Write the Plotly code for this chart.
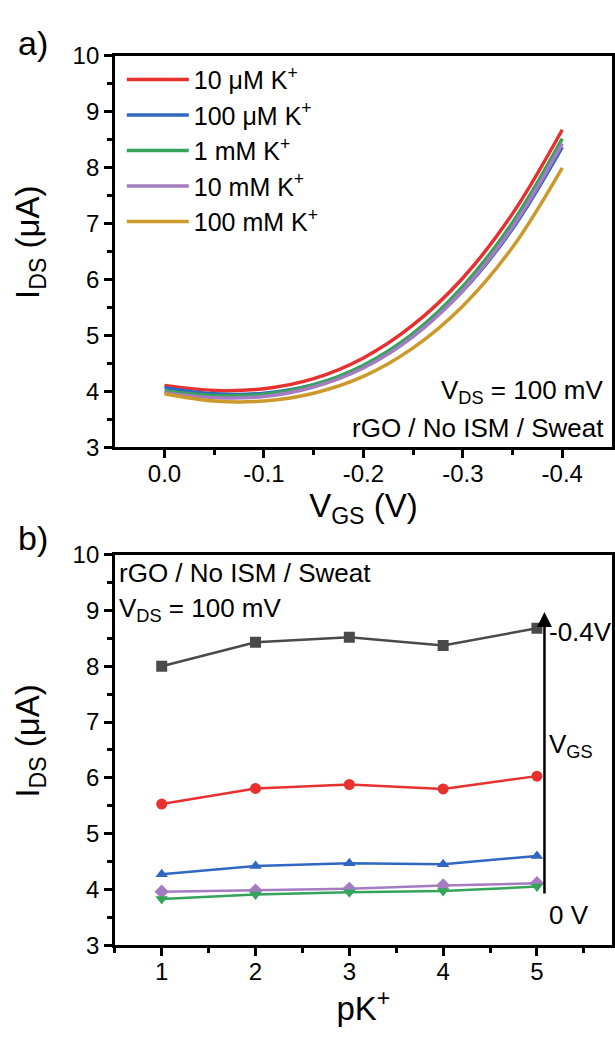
import plotly.graph_objects as go

# ---------------- Data ----------------
# Panel a: transfer curves (IDS in uA vs VGS in V)
vgs = [0.0, -0.05, -0.10, -0.15, -0.20, -0.25, -0.30, -0.35, -0.40]
conc_labels = ["10 μM K<sup>+</sup>", "100 μM K<sup>+</sup>", "1 mM K<sup>+</sup>",
               "10 mM K<sup>+</sup>", "100 mM K<sup>+</sup>"]
ids_10uM = [4.11, 4.02, 4.05, 4.23, 4.60, 5.19, 6.03, 7.18, 8.68]
ids_100uM = [4.07, 3.96, 3.97, 4.12, 4.45, 5.00, 5.80, 6.91, 8.37]
ids_1mM = [4.01, 3.93, 3.95, 4.12, 4.47, 5.04, 5.88, 7.02, 8.52]
ids_10mM = [3.98, 3.89, 3.91, 4.08, 4.42, 4.98, 5.81, 6.94, 8.43]
ids_100mM = [3.96, 3.83, 3.83, 3.97, 4.27, 4.78, 5.53, 6.58, 8.00]
colors_a = ["#E8302E", "#2F67C2", "#36A35A", "#A57BC2", "#CC9A2A"]

# Panel b: IDS vs pK+ at several VGS
pk = [1, 2, 3, 4, 5]
ids_m04 = [8.00, 8.43, 8.52, 8.37, 8.68]
ids_m03 = [5.53, 5.81, 5.88, 5.80, 6.03]
ids_m02 = [4.27, 4.42, 4.47, 4.45, 4.60]
ids_0 = [3.96, 3.98, 4.01, 4.07, 4.11]
ids_m01 = [3.83, 3.91, 3.95, 3.97, 4.05]
colors_b = ["#4A4A4A", "#E8302E", "#2F67C2", "#A57BC2", "#36A35A"]
symbols_b = ["square", "circle", "triangle-up", "diamond", "triangle-down"]

xa_ticks = [0.0, -0.1, -0.2, -0.3, -0.4]
xa_ticktext = ["0.0", "-0.1", "-0.2", "-0.3", "-0.4"]
y_ticks = [3, 4, 5, 6, 7, 8, 9, 10]
xb_ticks = [1, 2, 3, 4, 5]

FONT = "Arial, Liberation Sans, sans-serif"
W, H = 615, 1041

fig = go.Figure()

series_a = [ids_10uM, ids_100uM, ids_1mM, ids_10mM, ids_100mM]
for i, (lab, ys) in enumerate(zip(conc_labels, series_a)):
    fig.add_trace(go.Scatter(x=vgs, y=ys, mode="lines", name=lab,
                             line=dict(color=colors_a[i], width=3.5, shape="spline"),
                             xaxis="x", yaxis="y", legendgroup=f"g{i}"))

series_b = [ids_m04, ids_m03, ids_m02, ids_0, ids_m01]
for i, ys in enumerate(series_b):
    fig.add_trace(go.Scatter(x=pk, y=ys, mode="lines+markers", showlegend=False,
                             line=dict(color=colors_b[i], width=2.5),
                             marker=dict(symbol=symbols_b[i], size=11, color=colors_b[i]),
                             xaxis="x2", yaxis="y2"))

TICK = 24
TITLE = 33
axis_common = dict(showline=True, linecolor="black", linewidth=2.5, mirror=True,
                   ticks="outside", ticklen=8, tickwidth=2.5, tickcolor="black",
                   showgrid=False, zeroline=False,
                   tickfont=dict(family=FONT, size=TICK, color="black"))
minor_common = dict(ticks="outside", ticklen=5, tickwidth=2.5, tickcolor="black")


def px_x(p):
    return p / W


def px_y(p):
    return 1 - p / H


fig.update_layout(
    width=W, height=H,
    margin=dict(l=0, r=0, t=0, b=0),
    plot_bgcolor="white", paper_bgcolor="white",
    font=dict(family=FONT, color="black"),
    xaxis=dict(axis_common, domain=[px_x(115), px_x(613)], range=[0.05, -0.45],
               tickmode="array", tickvals=xa_ticks, ticktext=xa_ticktext,
               ticklabelstandoff=-5,
               minor=dict(minor_common, tickmode="array", tickvals=[-0.05, -0.15, -0.25, -0.35]),
               title=dict(text="V<sub>GS</sub> (V)", font=dict(family=FONT, size=TITLE), standoff=6),
               anchor="y"),
    yaxis=dict(axis_common, domain=[px_y(445), px_y(43)], range=[3, 10],
               tickmode="array", tickvals=y_ticks,
               minor=dict(minor_common, dtick=0.5, tick0=3),
               anchor="x"),
    xaxis2=dict(axis_common, domain=[px_x(115), px_x(613)], range=[0.5, 5.8],
                tickmode="array", tickvals=xb_ticks,
                ticklabelstandoff=-5,
                minor=dict(minor_common, dtick=0.5, tick0=0.5),
                title=dict(text="pK<sup>+</sup>", font=dict(family=FONT, size=TITLE), standoff=8),
                anchor="y2"),
    yaxis2=dict(axis_common, domain=[px_y(956), px_y(555)], range=[3, 10],
                tickmode="array", tickvals=y_ticks,
                minor=dict(minor_common, dtick=0.5, tick0=3),
                anchor="x2"),
    legend=dict(x=px_x(122), y=px_y(44), xanchor="left", yanchor="top",
                font=dict(family=FONT, size=25), bgcolor="rgba(0,0,0,0)",
                itemwidth=62, tracegroupgap=4, traceorder="normal"),
    showlegend=True,
)

ann_font = dict(family=FONT, size=26, color="black")
title_font = dict(family=FONT, size=TITLE, color="black")
annotations = [
    dict(text="a)", x=px_x(16), y=px_y(30), xref="paper", yref="paper",
         xanchor="left", yanchor="middle", showarrow=False, font=dict(family=FONT, size=34)),
    dict(text="b)", x=px_x(16), y=px_y(538), xref="paper", yref="paper",
         xanchor="left", yanchor="middle", showarrow=False, font=dict(family=FONT, size=34)),
    # y-axis titles
    dict(text="I<sub>DS</sub> (μA)", textangle=-90, x=px_x(30), y=px_y(234),
         xref="paper", yref="paper", xanchor="center", yanchor="middle",
         showarrow=False, font=title_font),
    dict(text="I<sub>DS</sub> (μA)", textangle=-90, x=px_x(30), y=px_y(746),
         xref="paper", yref="paper", xanchor="center", yanchor="middle",
         showarrow=False, font=title_font),
    dict(text="V<sub>DS</sub> = 100 mV", x=px_x(607), y=px_y(388), xref="paper", yref="paper",
         xanchor="right", yanchor="middle", showarrow=False, font=ann_font),
    dict(text="rGO / No ISM / Sweat", x=px_x(607), y=px_y(425), xref="paper", yref="paper",
         xanchor="right", yanchor="middle", showarrow=False, font=ann_font),
    dict(text="rGO / No ISM / Sweat", x=px_x(117), y=px_y(574), xref="paper", yref="paper",
         xanchor="left", yanchor="middle", showarrow=False, font=ann_font),
    dict(text="V<sub>DS</sub> = 100 mV", x=px_x(117), y=px_y(611), xref="paper", yref="paper",
         xanchor="left", yanchor="middle", showarrow=False, font=ann_font),
    # V_GS arrow
    dict(text="", x=5.08, y=8.97, ax=5.08, ay=3.9, xref="x2", yref="y2",
         axref="x2", ayref="y2", showarrow=True, arrowhead=2, arrowsize=1.2,
         arrowwidth=2.5, arrowcolor="black", standoff=0),
    dict(text="-0.4V", x=5.11, y=8.62, xref="x2", yref="y2", xanchor="left",
         yanchor="middle", showarrow=False, font=ann_font),
    dict(text="V<sub>GS</sub>", x=5.11, y=6.57, xref="x2", yref="y2", xanchor="left",
         yanchor="middle", showarrow=False, font=ann_font),
    dict(text="0 V", x=5.11, y=3.55, xref="x2", yref="y2", xanchor="left",
         yanchor="middle", showarrow=False, font=ann_font),
]
fig.update_layout(annotations=annotations)

fig.write_html("out.html", config={"displayModeBar": False},
               post_script="document.body.style.margin='0';document.body.style.overflow='hidden';")
